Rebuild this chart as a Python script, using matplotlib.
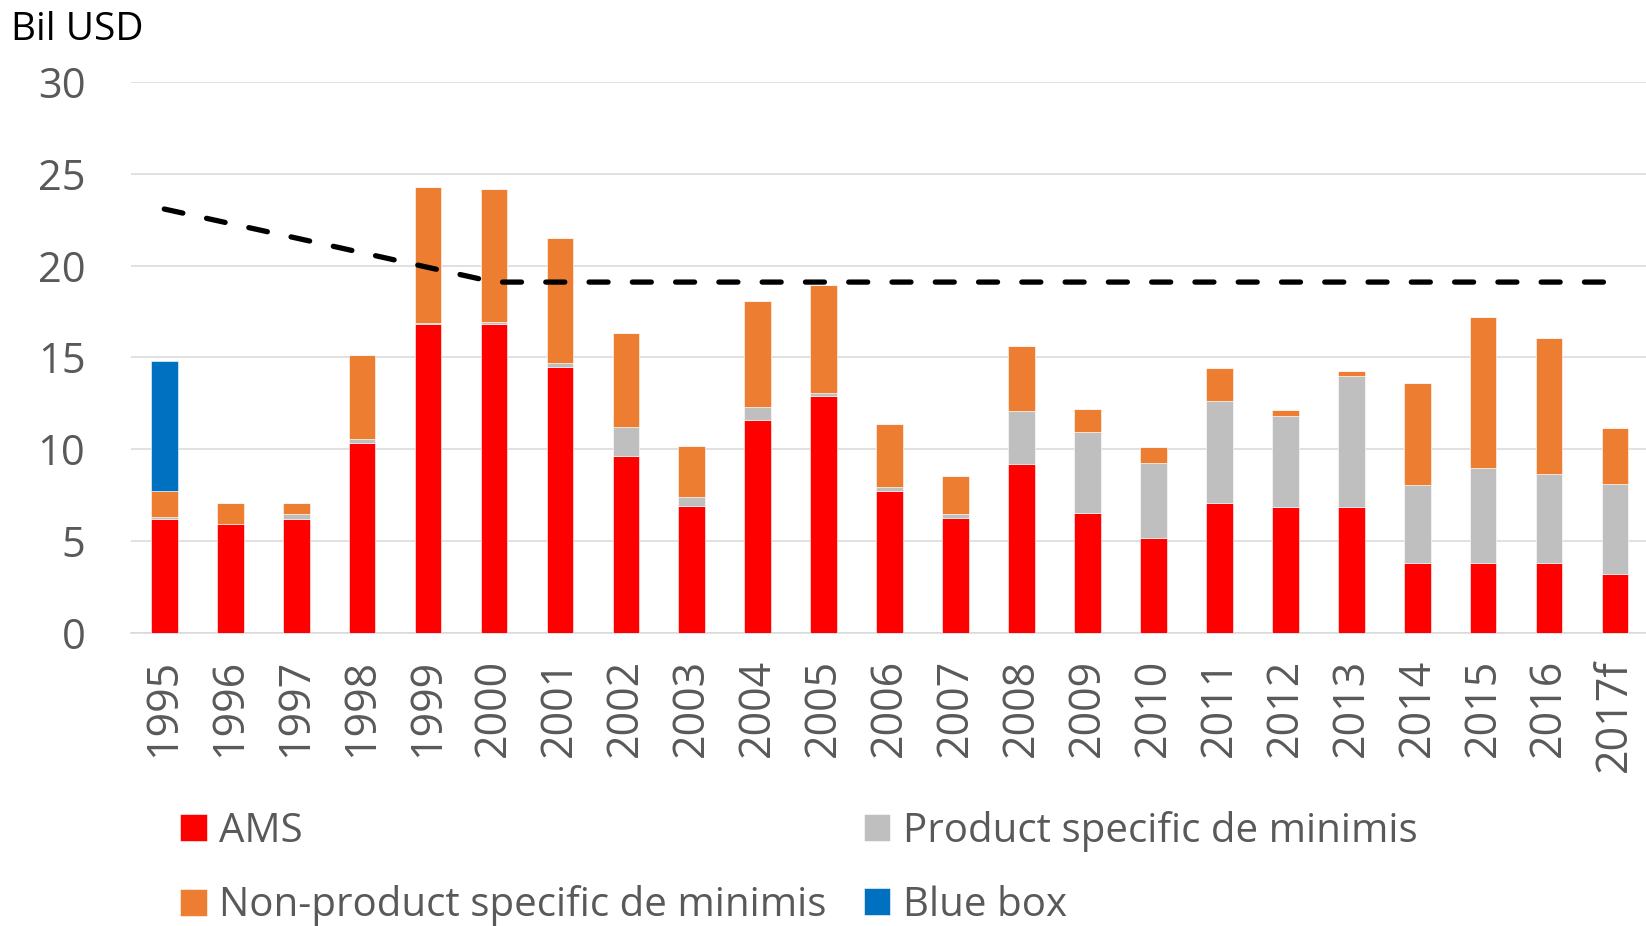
import matplotlib
matplotlib.use("Agg")
import matplotlib.pyplot as plt
import numpy as np

plt.rcParams["font.family"] = ["Open Sans", "DejaVu Sans"]

years = ["1995", "1996", "1997", "1998", "1999", "2000", "2001", "2002", "2003",
         "2004", "2005", "2006", "2007", "2008", "2009", "2010", "2011", "2012",
         "2013", "2014", "2015", "2016", "2017f"]
ams = [6.2, 5.9, 6.2, 10.35, 16.8, 16.8, 14.47, 9.62, 6.9,
       11.58, 12.9, 7.74, 6.27, 9.17, 6.54, 5.16, 7.05, 6.83,
       6.85, 3.8, 3.81, 3.81, 3.21]
ps_deminimis = [0.1, 0.02, 0.27, 0.2, 0.06, 0.1, 0.24, 1.6, 0.49,
                0.73, 0.15, 0.18, 0.2, 2.9, 4.4, 4.06, 5.57, 5.0,
                7.15, 4.25, 5.18, 4.82, 4.89]
nps_deminimis = [1.4, 1.15, 0.6, 4.57, 7.4, 7.25, 6.8, 5.1, 2.78,
                 5.77, 5.9, 3.43, 2.06, 3.54, 1.25, 0.88, 1.78, 0.31,
                 0.25, 5.54, 8.19, 7.4, 3.03]
blue_box = [7.1, 0, 0, 0, 0, 0, 0, 0, 0,
            0, 0, 0, 0, 0, 0, 0, 0, 0,
            0, 0, 0, 0, 0]
# AMS commitment level
ceiling = [23.08, 22.29, 21.5, 20.7, 19.9, 19.1, 19.1, 19.1, 19.1,
           19.1, 19.1, 19.1, 19.1, 19.1, 19.1, 19.1, 19.1, 19.1,
           19.1, 19.1, 19.1, 19.1, 19.1]

TXT = "#595959"
W, H = 1646, 926
fig = plt.figure(figsize=(W / 100, H / 100), dpi=100)
ax = fig.add_axes([131.3 / W, (H - 632.7) / H, 1516.7 / W, (632.7 - 82) / H])

x = np.arange(len(years))
bw = 0.405
b1 = np.array(ams)
b2 = b1 + np.array(ps_deminimis)
b3 = b2 + np.array(nps_deminimis)
kw = dict(width=bw, edgecolor="white", linewidth=0.4, zorder=3)
h_ams = ax.bar(x, ams, color="#FF0000", label="AMS", **kw)
h_ps = ax.bar(x, ps_deminimis, bottom=b1, color="#BFBFBF",
              label="Product specific de minimis", **kw)
h_nps = ax.bar(x, nps_deminimis, bottom=b2, color="#ED7D31",
               label="Non-product specific de minimis", **kw)
h_bb = ax.bar(x, blue_box, bottom=b3, color="#0070C0", label="Blue box", **kw)

ax.plot(x, ceiling, color="black", lw=3.8, dashes=(3.6, 4.6),
        dash_capstyle="round", zorder=4)

ax.set_xlim(-0.5, len(years) - 0.5)
ax.set_ylim(0, 30)
ax.set_yticks(np.arange(0, 31, 5))
ax.yaxis.grid(True, color="#D9D9D9", lw=1.1, zorder=0)
ax.set_axisbelow(True)
for s in ["top", "right", "left"]:
    ax.spines[s].set_visible(False)
ax.spines["bottom"].set_color("#D9D9D9")
ax.spines["bottom"].set_linewidth(1.1)
ax.set_xticks(x)
ax.set_xticklabels(years, rotation=90)
ax.tick_params(axis="y", length=0, pad=33, labelsize=30, labelcolor=TXT)
ax.tick_params(axis="x", length=0, pad=19, labelsize=31, labelcolor=TXT)

fig.text(11 / W, 1 - 40 / H, "Bil USD", fontsize=28, color="black",
         ha="left", va="baseline")

leg = fig.legend([h_ams, h_nps, h_ps, h_bb],
                 ["AMS", "Non-product specific de minimis",
                  "Product specific de minimis", "Blue box"],
                 ncol=2, loc="upper left", bbox_to_anchor=(180 / W, 1 - 811 / H),
                 frameon=False, fontsize=29, borderpad=0, borderaxespad=0,
                 handlelength=0.66, handleheight=0.66, handletextpad=0.32,
                 columnspacing=0.92, labelspacing=0.83, labelcolor=TXT)

fig.savefig("out.png", dpi=100)
